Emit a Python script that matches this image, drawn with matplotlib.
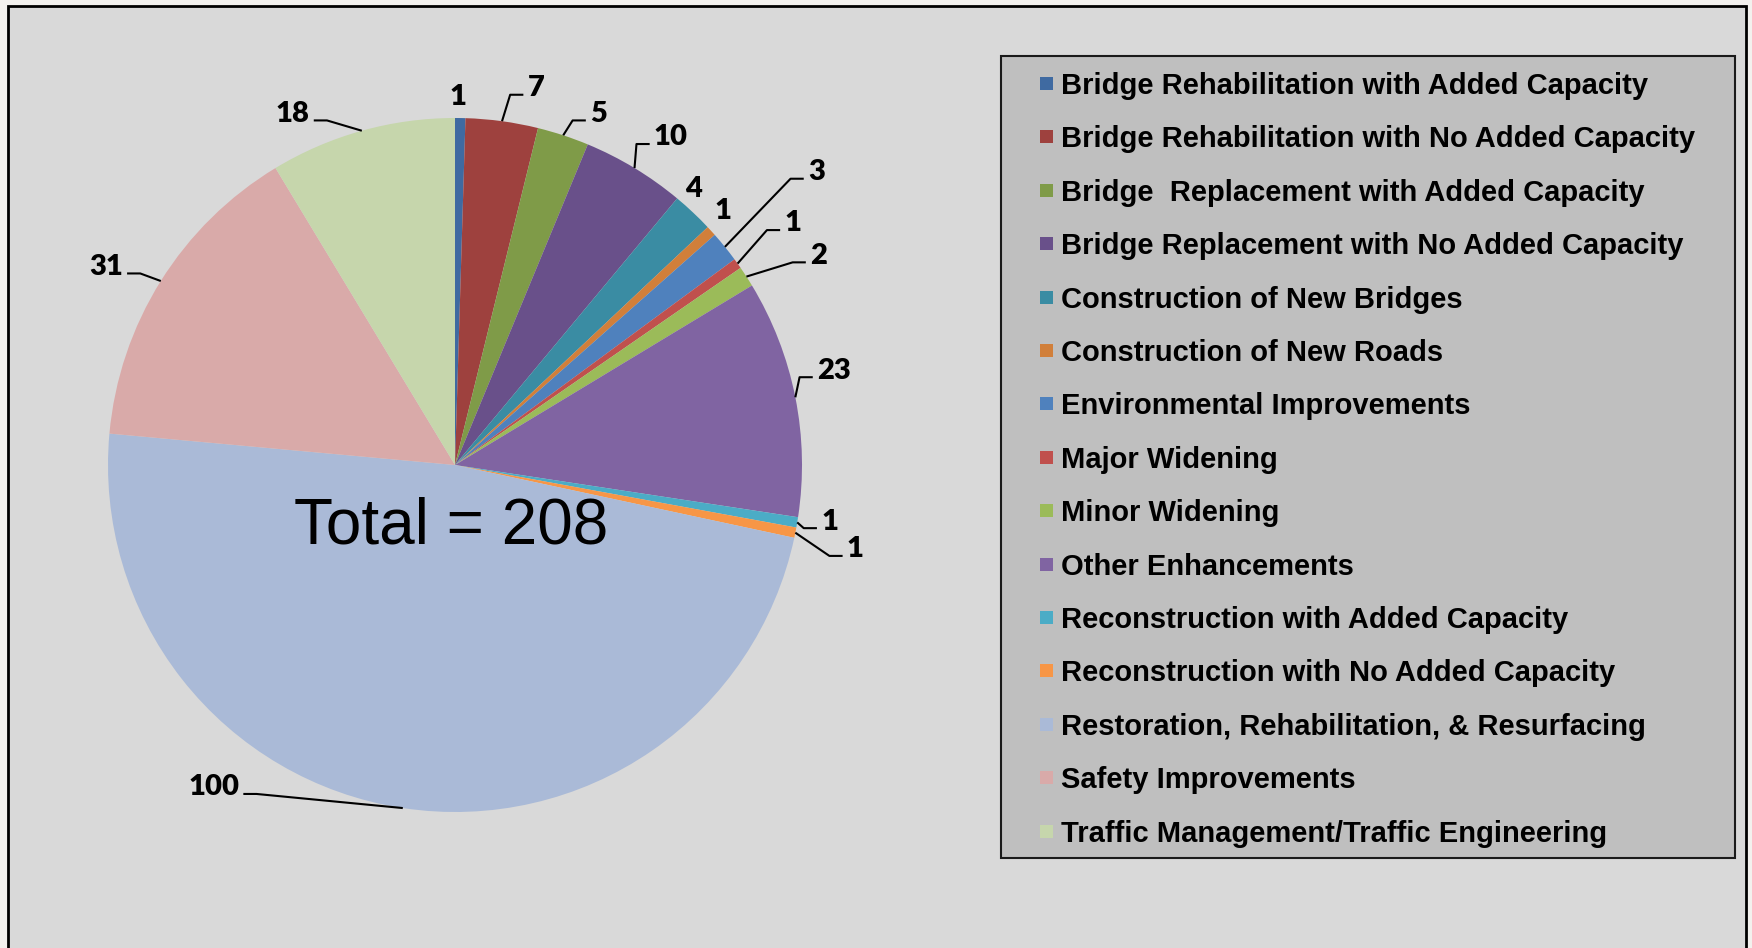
import numpy as np
import matplotlib.pyplot as plt
from matplotlib.patches import Rectangle

categories = [
    'Bridge Rehabilitation with Added Capacity',
    'Bridge Rehabilitation with No Added Capacity',
    'Bridge  Replacement with Added Capacity',
    'Bridge Replacement with No Added Capacity',
    'Construction of New Bridges',
    'Construction of New Roads',
    'Environmental Improvements',
    'Major Widening',
    'Minor Widening',
    'Other Enhancements',
    'Reconstruction with Added Capacity',
    'Reconstruction with No Added Capacity',
    'Restoration, Rehabilitation, & Resurfacing',
    'Safety Improvements',
    'Traffic Management/Traffic Engineering',
]
counts = [1, 7, 5, 10, 4, 1, 3, 1, 2, 23, 1, 1, 100, 31, 18]
colors = ['#3f6aa1', '#9e413e', '#7f9b48', '#69508a', '#3a8ca3', '#d17f3a',
          '#4f81bd', '#c0504d', '#9bbb59', '#8064a2', '#4bacc6', '#f79646',
          '#aabad7', '#d9aaa9', '#c6d6ac']

# label anchor (pie radius = 1) and side: c = no leader, r/l = leader on that side
label_pos = [(0.009, 1.066), (0.209, 1.092), (0.389, 1.018), (0.573, 0.950),
             (0.688, 0.802), (0.772, 0.737), (1.017, 0.850), (0.949, 0.702),
             (1.023, 0.609), (1.043, 0.278), (1.055, -0.157), (1.129, -0.237),
             (-0.622, -0.923), (-0.957, 0.577), (-0.419, 1.018)]
label_side = ['c', 'r', 'r', 'r', 'c', 'c', 'r', 'r', 'r', 'r', 'r', 'r', 'l', 'l', 'l']

W, H, DPI = 1752, 948, 100
fig = plt.figure(figsize=(W / DPI, H / DPI), dpi=DPI)
fig.patch.set_facecolor('#f3f1ee')


def px(x, y):
    """figure pixel (from top-left) -> figure fraction"""
    return x / W, 1 - y / H


# chart area
fig.patches.append(Rectangle(px(8, 960), (1746 - 8) / W, (960 - 6) / H,
                             transform=fig.transFigure, facecolor='#d9d9d9',
                             edgecolor='black', lw=2, zorder=-5))

cx, cy, R = 455, 465, 347
ax = fig.add_axes([0, 0, 1, 1])
ax.patch.set_visible(False)
wedges, _ = ax.pie(counts, colors=colors, startangle=90, counterclock=False,
                   radius=1, wedgeprops=dict(linewidth=0))
ax.set_xlim(-cx / R, (W - cx) / R)
ax.set_ylim(-(H - cy) / R, cy / R)
ax.set_aspect('auto')
ax.axis('off')

lab_font = dict(family=['Lato', 'DejaVu Sans'], fontsize=21, fontweight='heavy')
for w, n, (tx, ty), side in zip(wedges, counts, label_pos, label_side):
    mid = np.deg2rad((w.theta1 + w.theta2) / 2)
    ex, ey = np.cos(mid), np.sin(mid)
    ha = {'c': 'center', 'r': 'left', 'l': 'right'}[side]
    ax.text(tx, ty - 0.006, str(n), ha=ha, va='center', color='black', **lab_font)
    if side != 'c':
        s = 1 if side == 'r' else -1
        hy = ty - 0.025
        ax.plot([ex, tx - s * 0.05, tx - s * 0.012], [ey, hy, hy],
                color='black', lw=1.5, solid_capstyle='butt')

ax.text(-0.012, -0.177, f'Total = {sum(counts)}', ha='center', va='center',
        fontsize=46, family=['Liberation Sans', 'DejaVu Sans'], color='black')

# legend box
x0, y0 = px(1001, 858)
fig.patches.append(Rectangle((x0, y0), (1735 - 1001) / W, (858 - 56) / H,
                             transform=fig.transFigure, facecolor='#bfbfbf',
                             edgecolor='#1a1a1a', lw=1.5, zorder=1))
leg_font = dict(family=['Liberation Sans', 'DejaVu Sans'],
                fontsize=21, fontweight='bold')
for i, (cat, col) in enumerate(zip(categories, colors)):
    yc = 83 + 53.4 * i
    mx, my = px(1040, yc + 7)
    fig.patches.append(Rectangle((mx, my), 13 / W, 13 / H, transform=fig.transFigure,
                                 facecolor=col, edgecolor='none', zorder=2))
    tx, ty = px(1061, yc + 11)
    fig.text(tx, ty, cat, ha='left', va='baseline', color='black', **leg_font)

fig.savefig('out.png', dpi=DPI, facecolor=fig.get_facecolor())
